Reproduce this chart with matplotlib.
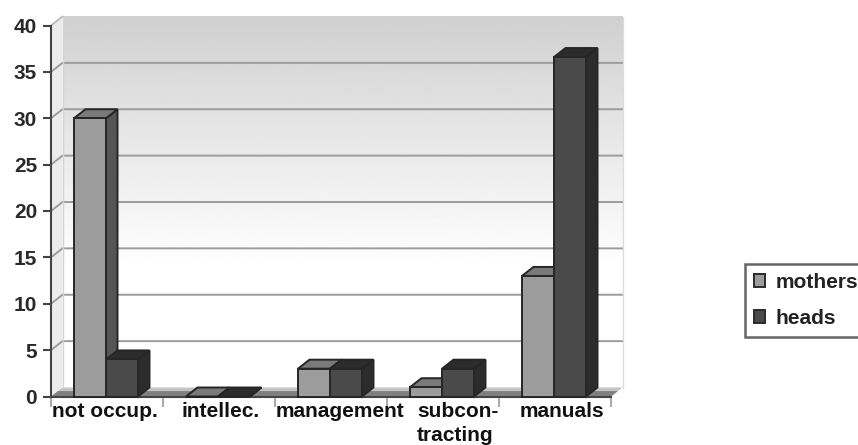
import numpy as np
import matplotlib
matplotlib.use("Agg")
import matplotlib.pyplot as plt
from matplotlib.patches import Polygon, Patch

plt.rcParams["font.family"] = ["Liberation Sans", "DejaVu Sans"]

categories = ["not occup.", "intellec.", "management", "subcon-\ntracting", "manuals"]
label_pos = [0.480, 1.51, 2.58, 3.63, 4.56]
mothers = [30, 0, 3, 1, 13]
heads = [4, 0, 3, 3, 36.6]
y_ticks = [0, 5, 10, 15, 20, 25, 30, 35, 40]

W, H = 858, 445
fig = plt.figure(figsize=(W / 100, H / 100), dpi=100)
ax = fig.add_axes([51 / W, 1 - 396.5 / H, 560 / W, 371 / H])

# depth of the fake 3d box, in data units
dx = 11.5 / 112
dy = 9 / 9.275

# back wall with grey to white fade
fade = np.clip(np.linspace(0.815, 1.09, 256), 0, 1)[:, None]
ax.imshow(fade, extent=[dx, 5 + dx, dy, 40 + dy], origin="upper", cmap="gray",
          vmin=0, vmax=1, aspect="auto", clip_on=False, zorder=0)
ax.add_patch(Polygon([(0, 0), (dx, dy), (dx, 40 + dy), (0, 40)], fc="#ececec", ec="none",
                     clip_on=False, zorder=0))

# floor, darker towards the front edge
ax.add_patch(Polygon([(0, 0), (5, 0), (5 + dx, dy), (dx, dy)], fc="#c4c4c4", ec="none",
                     clip_on=False, zorder=1))
ax.add_patch(Polygon([(0, 0), (5, 0), (5 + dx * 0.6, dy * 0.6), (dx * 0.6, dy * 0.6)],
                     fc="#808080", ec="none", clip_on=False, zorder=1))

ax.set_xlim(0, 5)
ax.set_ylim(0, 40)

# gridlines run along the wall and step down the side panel
for v in y_ticks[1:-1]:
    ax.plot([0, dx, 5 + dx], [v, v + dy, v + dy], color="#9c9c9c", lw=1.4,
            clip_on=False, zorder=1)
ax.plot([0, dx], [40, 40 + dy], color="#b5b5b5", lw=1.2, clip_on=False, zorder=1)
ax.plot([dx, dx], [dy, 40 + dy], color="#d4d4d4", lw=1, clip_on=False, zorder=1)
ax.plot([5 + dx, 5 + dx], [dy, 40 + dy], color="#dcdcdc", lw=1, clip_on=False, zorder=1)


def box(x0, x1, v, front, top, side):
    ec = "#262626"
    z = 3
    ax.add_patch(Polygon([(x1, 0), (x1 + dx, dy), (x1 + dx, v + dy), (x1, v)],
                         fc=side, ec=ec, lw=1.4, zorder=z, clip_on=False))
    ax.add_patch(Polygon([(x0, v), (x0 + dx, v + dy), (x1 + dx, v + dy), (x1, v)],
                         fc=top, ec=ec, lw=1.4, zorder=z, clip_on=False))
    ax.add_patch(Polygon([(x0, 0), (x1, 0), (x1, v), (x0, v)],
                         fc=front, ec=ec, lw=1.4, zorder=z, clip_on=False))


bar_w = 32 / 112
start = 23 / 112
for i in range(len(categories)):
    box(i + start, i + start + bar_w, mothers[i], "#9c9c9c", "#7a7a7a", "#555555")
    box(i + start + bar_w, i + start + 2 * bar_w, heads[i], "#4a4a4a", "#2c2c2c", "#2c2c2c")

for s in ["top", "right"]:
    ax.spines[s].set_visible(False)
ax.spines["left"].set_color("#444444")
ax.spines["left"].set_linewidth(1.5)
ax.spines["bottom"].set_color("#444444")
ax.spines["bottom"].set_linewidth(1.5)
ax.patch.set_visible(False)

ax.set_yticks(y_ticks)
ax.set_yticklabels([str(v) for v in y_ticks], fontsize=15, fontweight="bold", color="#2a2a2a")
ax.tick_params(axis="y", length=6, width=1.5, color="#444444", pad=4)

ax.set_xticks(range(6))
ax.set_xticklabels([])
ax.tick_params(axis="x", which="major", length=7, width=1.2, color="#999999")
ax.set_xticks(label_pos, categories, minor=True)
ax.tick_params(axis="x", which="minor", length=0, pad=4, labelsize=15)
for t in ax.get_xticklabels(minor=True):
    t.set_fontweight("bold")
    t.set_color("#111111")
    t.set_multialignment("left")
    t.set_linespacing(1.3)

handles = [Patch(fc="#9c9c9c", ec="#2b2b2b", lw=1.4, label="mothers"),
           Patch(fc="#4a4a4a", ec="#2b2b2b", lw=1.4, label="heads")]
leg = fig.legend(handles=handles, loc="upper left",
                 bbox_to_anchor=(745 / W, 1 - 264 / H), bbox_transform=fig.transFigure,
                 fancybox=False, framealpha=1, edgecolor="#666666", borderaxespad=0,
                 handlelength=0.55, handleheight=0.55, handletextpad=0.48,
                 borderpad=0.42, labelspacing=0.82,
                 prop={"size": 15, "weight": "bold"})
leg.get_frame().set_linewidth(1.8)
for t in leg.get_texts():
    t.set_color("#222222")

fig.savefig("out.png", dpi=100)
